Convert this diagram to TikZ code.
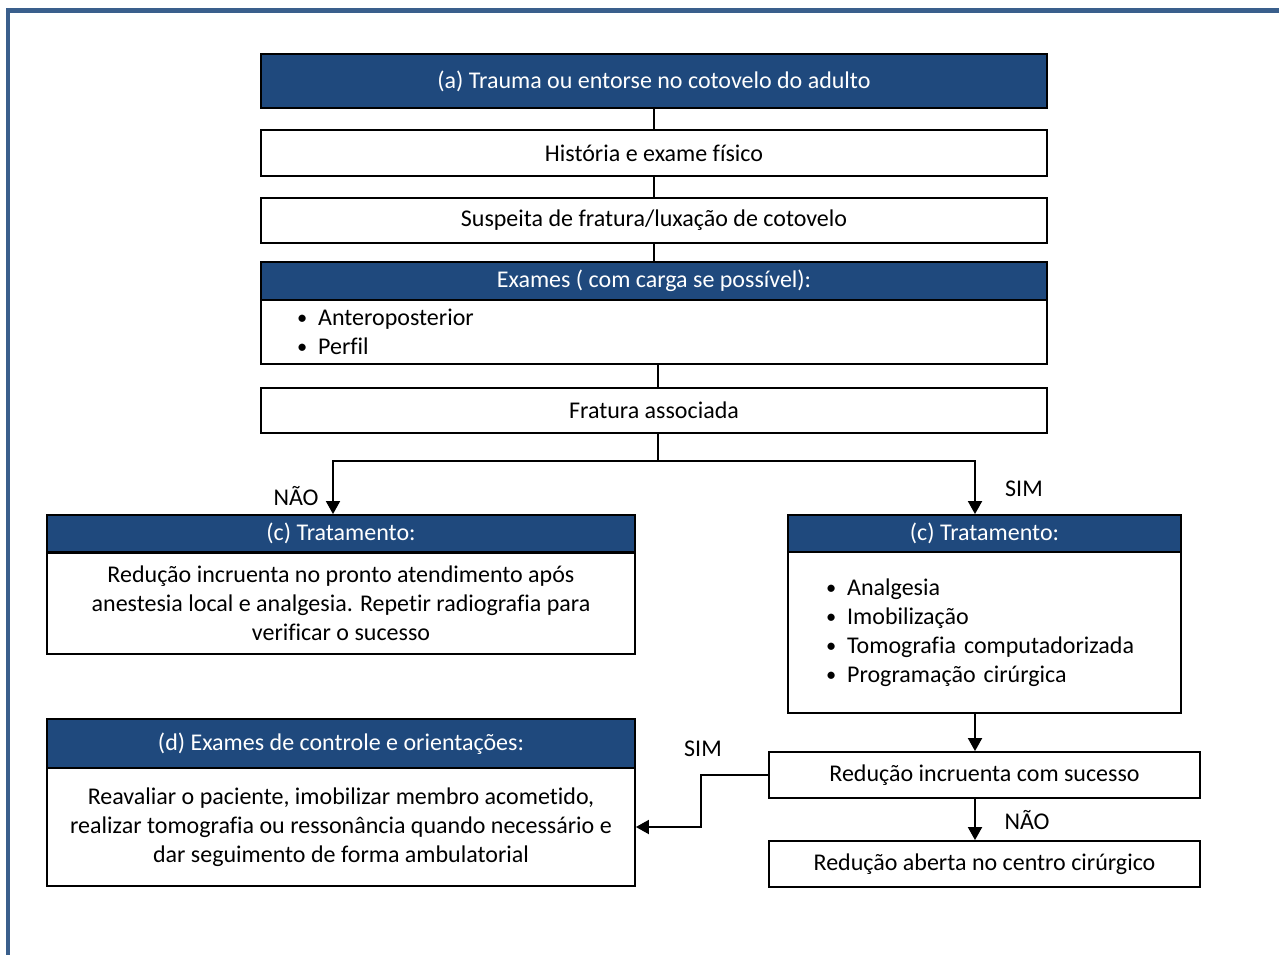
\documentclass[tikz,border=0pt]{standalone}
\usepackage{fontspec}
\setmainfont{Carlito}[Ligatures=NoCommon]
\usetikzlibrary{arrows.meta,positioning,calc}
\definecolor{headblue}{RGB}{31,73,125}
\definecolor{frameblue}{RGB}{58,95,140}
\newcommand{\bul}{\raisebox{1pt}{\scalebox{0.85}{•}}\hspace{11pt}}

\begin{document}
\begin{tikzpicture}[x=1pt,y=-1pt,font=\fontsize{24}{29}\selectfont,
    box/.style={draw,line width=1.8pt,inner sep=0pt,align=center},
    head/.style={box,fill=headblue,text=white},
    link/.style={line width=1.8pt},
    arr/.style={line width=1.8pt,-{Triangle[length=13pt,width=14pt]}}]
    \useasboundingbox (0,0) rectangle (1279,955);
    % Frame
    \draw[line width=4.5pt,frameblue] (8,965) -- (8,10.5) -- (1290,10.5);

    % Main column
    \node[head,minimum width=786pt,minimum height=54pt] (trauma) at (654,81) {(a) Trauma ou entorse no cotovelo do adulto};
    \node[box,minimum width=786pt,minimum height=46pt] (hist) at (654,153) {História e exame físico};
    \node[box,minimum width=786pt,minimum height=45pt] (susp) at (654,220.5) {Suspeita de fratura/luxação de cotovelo};
    \node[head,minimum width=786pt,minimum height=38pt] (exhead) at (654,281) {Exames ( com carga se possível):};
    \node[box,minimum width=786pt,minimum height=64pt,text width=714pt,inner xsep=36pt,align=left] (exbody) at (654,332) {\bul Anteroposterior\\\bul Perfil};
    \node[box,minimum width=786pt,minimum height=45pt] (frat) at (654,410.5) {Fratura associada};

    \draw[link] (trauma.south) -- (hist.north);
    \draw[link] (hist.south) -- (susp.north);
    \draw[link] (susp.south) -- (exhead.north);
    \draw[link] ([xshift=4pt]exbody.south) -- ([xshift=4pt]frat.north);

    % Left branch
    \node[head,minimum width=588pt,minimum height=37pt] (lhead) at (341,533.5) {(c) Tratamento:};
    \node[box,minimum width=588pt,minimum height=101pt] (lbody) at (341,603.5) {Redução incruenta no pronto atendimento após\\anestesia local e analgesia. Repetir radiografia para\\verificar o sucesso};

    % Right branch
    \node[head,minimum width=393pt,minimum height=37pt] (rhead) at (984.5,533.5) {\raisebox{-3pt}{(c) Tratamento:}};
    \node[box,minimum width=393pt,minimum height=161pt,text width=317pt,inner xsep=38pt,align=left] (rbody) at (984.5,632.5) {\bul Analgesia\\\bul Imobilização\\\bul Tomografia computadorizada\\\bul Programação cirúrgica};
    \node[box,minimum width=431pt,minimum height=46pt] (incr) at (984.5,775) {Redução incruenta com sucesso};
    \node[box,minimum width=431pt,minimum height=46pt] (aberta) at (984.5,864) {Redução aberta no centro cirúrgico};

    % Control exams
    \node[head,minimum width=588pt,minimum height=49pt] (dhead) at (341,743.5) {(d) Exames de controle e orientações:};
    \node[box,minimum width=588pt,minimum height=118pt] (dbody) at (341,827) {Reavaliar o paciente, imobilizar membro acometido,\\realizar tomografia ou ressonância quando necessário e\\dar seguimento de forma ambulatorial};

    % Connectors
    \draw[link] ([xshift=4pt]frat.south) -- ++(0,27) coordinate (split);
    \draw[arr] (split) -| ([xshift=-8pt]lhead.north);
    \draw[arr] (split) -| ([xshift=-9.5pt]rhead.north);
    \draw[arr] ([xshift=-9.5pt]rbody.south) -- ([xshift=-9.5pt]incr.north);
    \draw[arr] ([xshift=-9.5pt]incr.south) -- ([xshift=-9.5pt]aberta.north);
    \draw[arr] (incr.west) -- ++(-67,0) |- (dbody.east);

    \node (nao1) at (296,496) {NÃO};
    \node (sim1) at (1024,489) {SIM};
    \node (sim2) at (703,749) {SIM};
    \node (nao2) at (1027,820) {NÃO};
\end{tikzpicture}
\end{document}
